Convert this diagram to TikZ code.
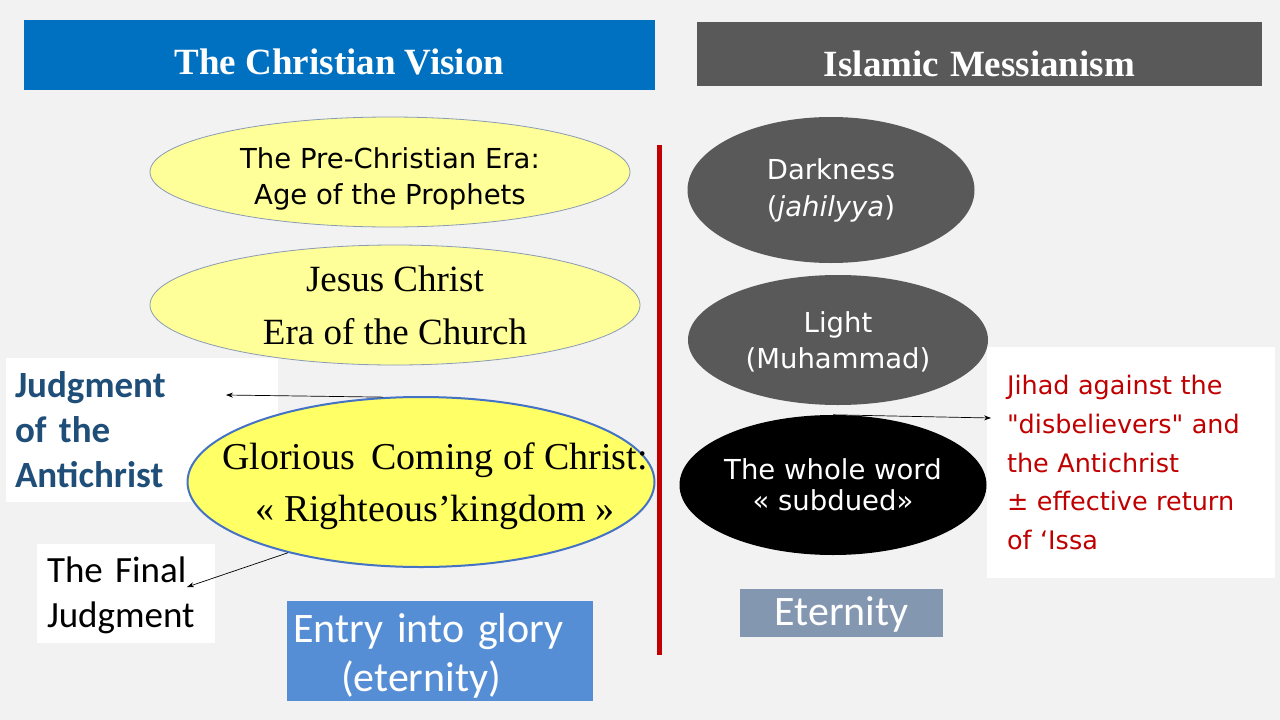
\documentclass[tikz,border=0pt]{standalone}
\usepackage{fontspec}
\setmainfont{Liberation Serif}
\newfontfamily\calibrifont{Carlito}
\newfontfamily\tahomafont{DejaVu Sans}
\usetikzlibrary{arrows.meta,shapes.geometric}
\definecolor{slidebg}{HTML}{F2F2F2}
\definecolor{headblue}{HTML}{0070C0}
\definecolor{headgray}{HTML}{595959}
\definecolor{paleyellow}{HTML}{FFFF99}
\definecolor{glowyellow}{HTML}{FFFF66}
\definecolor{ovalline}{HTML}{8A9BB3}
\definecolor{gloryline}{HTML}{4472C4}
\definecolor{antiblue}{HTML}{1F4E79}
\definecolor{jihadred}{HTML}{C00000}
\definecolor{entryblue}{HTML}{558ED5}
\definecolor{eternblue}{HTML}{8497B0}
\tikzset{
  headbar/.style={
    rectangle,
    inner sep=0pt,
    text=white,
    text depth=0pt,
    font=\bfseries\fontsize{37}{44}\selectfont
  },
  eraoval/.style={
    ellipse,
    draw=ovalline,
    line width=0.8pt,
    fill=paleyellow,
    inner sep=0pt
  },
  gloryoval/.style={
    ellipse,
    draw=gloryline,
    line width=2pt,
    fill=glowyellow,
    inner sep=0pt
  },
  darkoval/.style={
    ellipse,
    fill=headgray,
    inner sep=0pt
  },
  sanstext/.style={
    align=center,
    text=black,
    font=\tahomafont\fontsize{27.5}{36}\selectfont
  },
  seriftext/.style={
    align=center,
    text=black,
    font=\fontsize{37}{53}\selectfont
  },
  notebox/.style={
    rectangle,
    fill=white,
    inner ysep=0pt,
    align=left
  },
  slidebox/.style={
    rectangle,
    text=white,
    inner ysep=0pt,
    font=\calibrifont\fontsize{42}{49}\selectfont
  },
  linkarrow/.style={
    -{Stealth[length=7pt,width=5pt]},
    line width=0.7pt
  },
  divider/.style={
    line width=5pt,
    draw=jihadred
  }
}

\begin{document}
\begin{tikzpicture}[x=1pt,y=-1pt]
  \fill[slidebg] (0,0) rectangle (1280,720);
  \useasboundingbox (0,0) rectangle (1280,720);

  % headings
  \node[headbar, fill=headblue, minimum width=631pt, minimum height=70pt, text height=39pt]
    (christhead) at (339.5,55) {The Christian Vision};
  \node[headbar, fill=headgray, minimum width=565pt, minimum height=64pt, text height=44pt]
    (islamhead) at (979.5,54) {Islamic\hspace{11pt}Messianism};

  % side notes (left)
  \node[notebox, text=antiblue, font=\calibrifont\bfseries\fontsize{37}{45}\selectfont,
    text width=254pt, inner xsep=9pt, minimum height=144pt]
    (antichrist) at (142,430) {Judgment\\of the\\Antichrist};
  \node[notebox, font=\calibrifont\fontsize{37}{45}\selectfont,
    text width=158pt, inner xsep=10pt, minimum height=99pt, text height=30pt]
    (finaljudg) at (126,593.5) {The Final\\Judgment};

  % christian eras
  \node[eraoval, minimum width=480pt, minimum height=110pt,
    label={[sanstext, yshift=-7pt]center:{The Pre-Christian Era:\\Age of the Prophets}}]
    (preera) at (390,172) {};
  \node[eraoval, minimum width=490pt, minimum height=120pt,
    label={[seriftext]center:{Jesus Christ\\Era of the Church}}]
    (church) at (395,305) {};
  \node[gloryoval, minimum width=467pt, minimum height=170pt,
    label={[seriftext, xshift=14pt, yshift=-4pt, font=\fontsize{38}{52}\selectfont]center:{Glorious\ \,Coming of Christ:\\« Righteous’kingdom »}}]
    (glory) at (421,482) {};

  \node[slidebox, fill=entryblue, align=left, text width=294pt, inner xsep=6pt,
    minimum height=100pt, text height=39pt]
    (entry) at (440,651) {Entry into glory\\\hspace*{48pt}(eternity)};

  % divider
  \draw[divider] (659,145) -- (659,655);

  % islamic stages
  \node[darkoval, minimum width=287pt, minimum height=146pt,
    label={[sanstext, text=white, font=\tahomafont\fontsize{27.5}{37}\selectfont]center:{Darkness\\(\textit{jahilyya})}}]
    (darkness) at (831,190) {};
  \node[darkoval, minimum width=300pt, minimum height=130pt,
    label={[sanstext, text=white, yshift=-2pt]center:{Light\\(Muhammad)}}]
    (light) at (838,340) {};
  \node[darkoval, fill=black, minimum width=307pt, minimum height=140pt,
    label={[sanstext, text=white, font=\tahomafont\fontsize{27.5}{31}\selectfont]center:{The whole word\\« subdued»}}]
    (world) at (833,485) {};

  \node[notebox, text=jihadred, font=\tahomafont\fontsize{25.5}{38.75}\selectfont,
    text width=248pt, inner xsep=20pt, minimum height=231pt]
    (jihad) at (1131,462.5) {Jihad against the\\"disbelievers" and\\the Antichrist\\± effective return\\of ‘Issa};

  \node[slidebox, fill=eternblue, minimum width=203pt, minimum height=48pt,
    text height=32pt, text depth=8pt]
    (eternity) at (841.5,613) {Eternity};

  % arrows
  \coordinate (antitip) at (226,395);
  \coordinate (finaltip) at (187,587);
  \coordinate (jihadtip) at (991,418);
  \draw[linkarrow] (glory.114) -- (antitip);
  \draw[linkarrow] (glory.208) -- (finaltip);
  \draw[linkarrow] (world.north) -- (jihadtip);
\end{tikzpicture}
\end{document}
